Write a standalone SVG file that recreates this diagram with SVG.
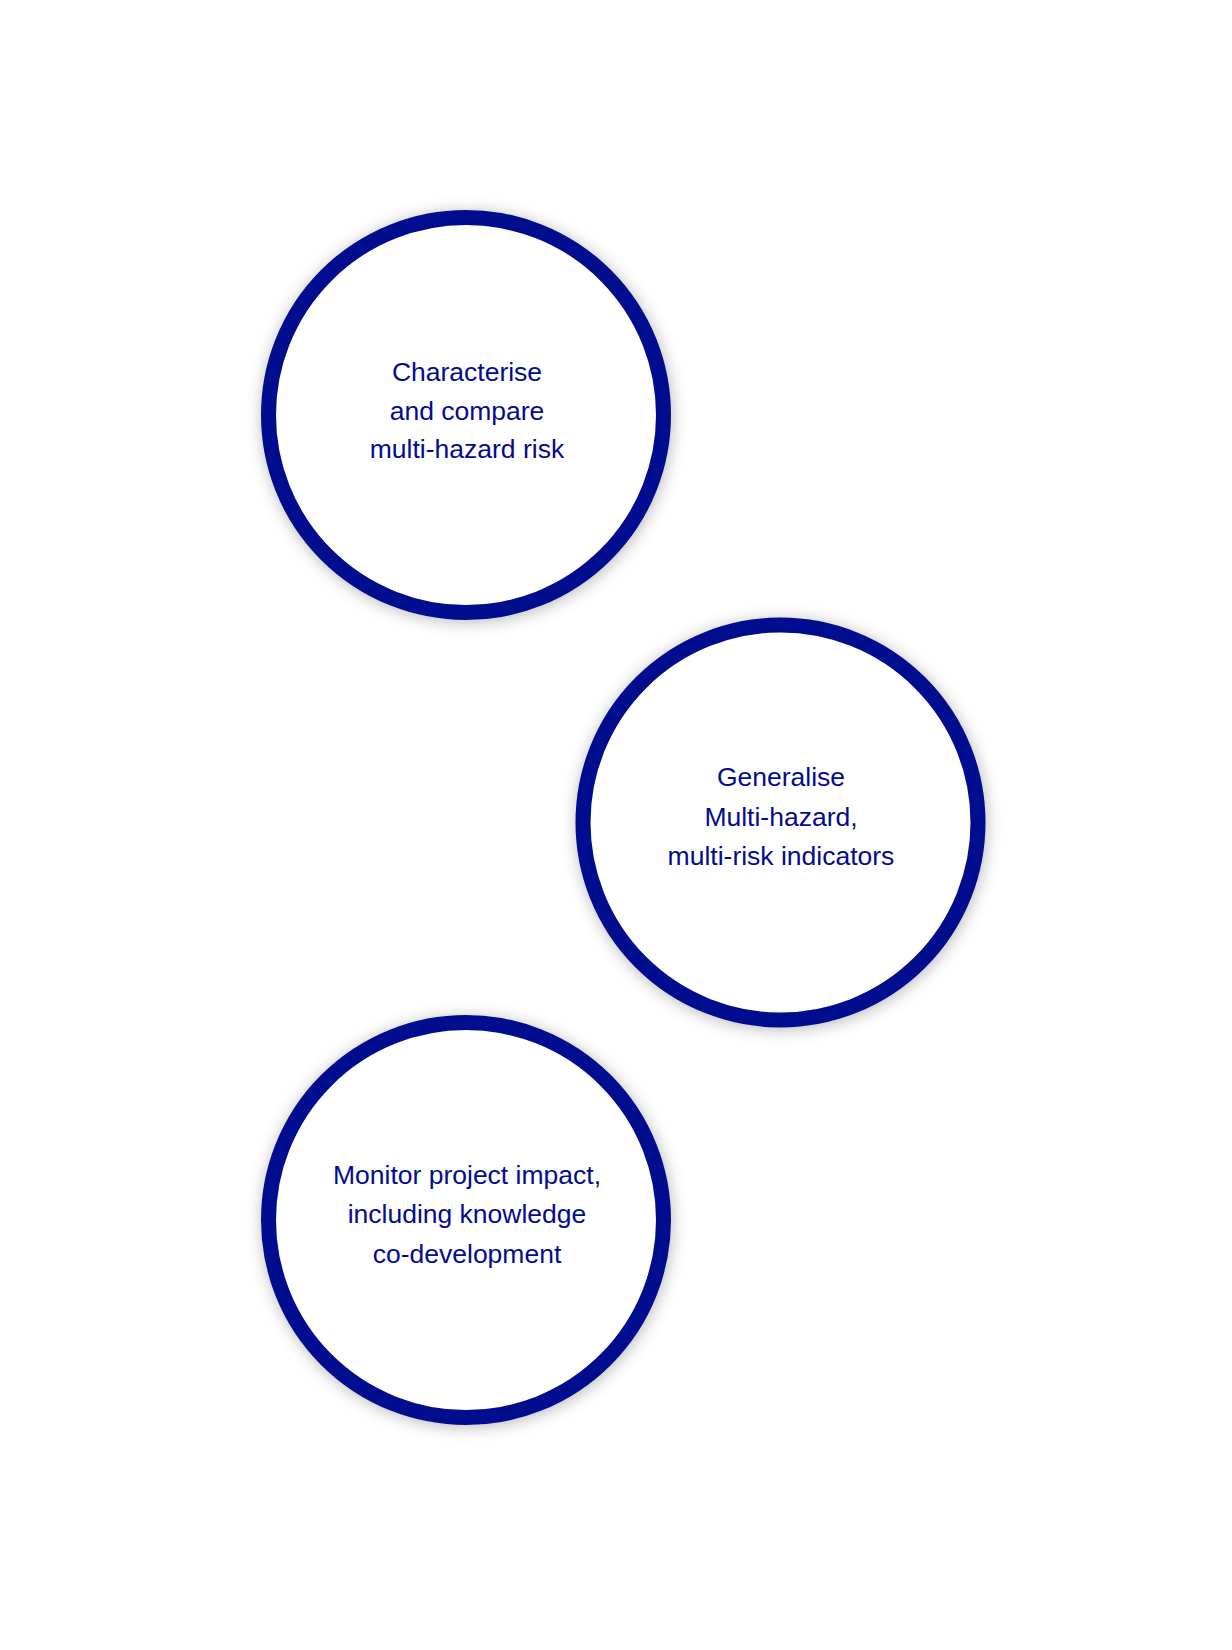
<svg xmlns="http://www.w3.org/2000/svg" width="1232" height="1650" viewBox="0 0 1232 1650">
  <defs>
    <filter id="shadow" x="-20%" y="-20%" width="140%" height="140%">
      <feDropShadow dx="1" dy="2" stdDeviation="8" flood-color="#000000" flood-opacity="0.28"/>
    </filter>
  </defs>
  <style>
    .ring { fill: #ffffff; stroke: #020c8f; stroke-width: 15; filter: url(#shadow); }
    .label { font-family: "Liberation Sans", Arial, sans-serif; font-size: 26.5px; fill: #020c8f; text-anchor: middle; }
  </style>
  <rect width="1232" height="1650" fill="#ffffff"/>
  <g id="connectors"></g>
  <g id="node-characterise">
    <circle class="ring" cx="466" cy="415" r="197.5"/>
    <text class="label" x="467" y="381">Characterise</text>
    <text class="label" x="467" y="420">and compare</text>
    <text class="label" x="467" y="458">multi-hazard risk</text>
  </g>
  <g id="node-generalise">
    <circle class="ring" cx="780.5" cy="822.5" r="197.5"/>
    <text class="label" x="781" y="786">Generalise</text>
    <text class="label" x="781" y="826">Multi-hazard,</text>
    <text class="label" x="781" y="865">multi-risk indicators</text>
  </g>
  <g id="node-monitor">
    <circle class="ring" cx="466" cy="1220" r="197.5"/>
    <text class="label" x="467" y="1184">Monitor project impact,</text>
    <text class="label" x="467" y="1223">including knowledge</text>
    <text class="label" x="467" y="1263">co-development</text>
  </g>
</svg>
